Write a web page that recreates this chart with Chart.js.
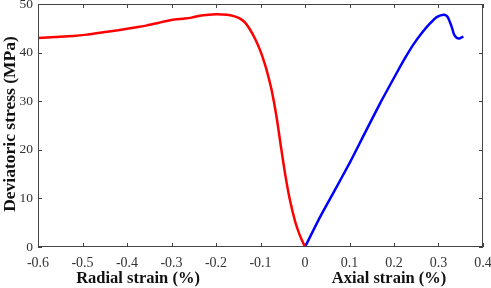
<!DOCTYPE html>
<html><head><meta charset="utf-8">
<script src="https://cdn.jsdelivr.net/npm/chart.js@4"></script>
<style>html,body{margin:0;padding:0;background:#fff}#wrap{width:491px;height:288px}</style>
</head><body><div id="wrap"><canvas id="c"></canvas></div>
<script>
const radialStrain = [0,-0.004,-0.012,-0.022,-0.034,-0.045,-0.054,-0.064,-0.075,-0.083,-0.090,-0.101,-0.112,-0.124,-0.135,-0.146,-0.160,-0.175,-0.198,-0.215,-0.236,-0.255,-0.270,-0.300,-0.326,-0.355,-0.386,-0.420,-0.461,-0.490,-0.521,-0.560,-0.600];
const radialStress = [0,0.8,2.5,5.2,9.7,15.2,20.6,26.8,32.3,35.3,37.6,40.5,42.8,44.8,46.2,47.0,47.5,47.8,47.9,47.8,47.6,47.2,47.0,46.7,46.2,45.6,45.1,44.6,44.1,43.7,43.4,43.2,43.0];
const axialStrain = [0,0.034,0.064,0.101,0.131,0.169,0.206,0.225,0.243,0.262,0.281,0.296,0.311,0.318,0.322,0.326,0.330,0.335,0.340,0.346,0.351,0.356];
const axialStress = [0,6.2,11.2,17.4,22.8,29.6,35.8,38.9,41.6,44.0,46.0,47.3,47.8,47.6,47.1,46.2,45.2,43.7,43.1,42.9,43.1,43.3];
const xTicks = [-0.6,-0.5,-0.4,-0.3,-0.2,-0.1,0,0.1,0.2,0.3,0.4];
const yTicks = [0,10,20,30,40,50];
const xTitles = ["Radial strain (%)","Axial strain (%)"];
const yTitle = "Deviatoric stress (MPa)";

const toPts = (xs, ys) => xs.map((x,i)=>({x:x,y:ys[i]}));
const serif = "'Liberation Serif','Times New Roman',serif";
const AXC = '#444';

const decor = {
  id:'decor',
  afterDraw(chart){
    const {ctx, chartArea:a, scales:{x,y}} = chart;
    ctx.save();
    ctx.strokeStyle = AXC; ctx.lineWidth = 1;
    ctx.strokeRect(a.left+0.5, a.top+0.5, a.right-a.left-1, a.bottom-a.top-1);
    ctx.beginPath();
    xTicks.forEach(v=>{const px=Math.round(x.getPixelForValue(v))+0.5;
      ctx.moveTo(px,a.bottom); ctx.lineTo(px,a.bottom-4);
      ctx.moveTo(px,a.top); ctx.lineTo(px,a.top+4);});
    yTicks.forEach(v=>{const py=Math.round(y.getPixelForValue(v))+0.5;
      ctx.moveTo(a.left,py); ctx.lineTo(a.left+4,py);
      ctx.moveTo(a.right,py); ctx.lineTo(a.right-4,py);});
    ctx.stroke();
    ctx.fillStyle = '#111';
    ctx.font = "bold 16.5px " + serif;
    ctx.textAlign='center'; ctx.textBaseline='middle';
    ctx.fillText(xTitles[0], 138, 279);
    ctx.fillText(xTitles[1], 389, 279);
    ctx.font = "bold 17.5px " + serif;
    ctx.translate(10, 124);
    ctx.rotate(-Math.PI/2);
    ctx.fillText(yTitle, 0, 0);
    ctx.restore();
  }
};

new Chart(document.getElementById('c'), {
  type:'scatter',
  data:{datasets:[
    {data:toPts(radialStrain,radialStress), showLine:true, borderColor:'#ff0000', borderWidth:2.5, pointRadius:0, tension:0.2, fill:false},
    {data:toPts(axialStrain,axialStress), showLine:true, borderColor:'#0000ff', borderWidth:2.5, pointRadius:0, tension:0.2, fill:false}
  ]},
  options:{
    responsive:true, maintainAspectRatio:false, animation:false,
    layout:{padding:{left:0,right:8,top:4,bottom:0}},
    plugins:{legend:{display:false}, tooltip:{enabled:false}},
    scales:{
      x:{type:'linear', min:-0.6, max:0.4,
        afterBuildTicks(s){s.ticks = xTicks.map(v=>({value:v}));},
        afterFit(s){s.height = 41; s.paddingLeft = 0; s.paddingRight = 0;},
        grid:{display:false, drawTicks:false}, border:{display:false},
        ticks:{padding:8, color:'#333', font:{family:serif, size:14},
          callback:v=>String(Math.round(v*10)/10)}},
      y:{min:0, max:50,
        afterBuildTicks(s){s.ticks = yTicks.map(v=>({value:v}));},
        afterFit(s){s.width = 38; s.paddingTop = 0; s.paddingBottom = 0;},
        grid:{display:false, drawTicks:false}, border:{display:false},
        ticks:{padding:5, color:'#333', font:{family:serif, size:13.5}}}
    }
  },
  plugins:[decor]
});
</script></body></html>
